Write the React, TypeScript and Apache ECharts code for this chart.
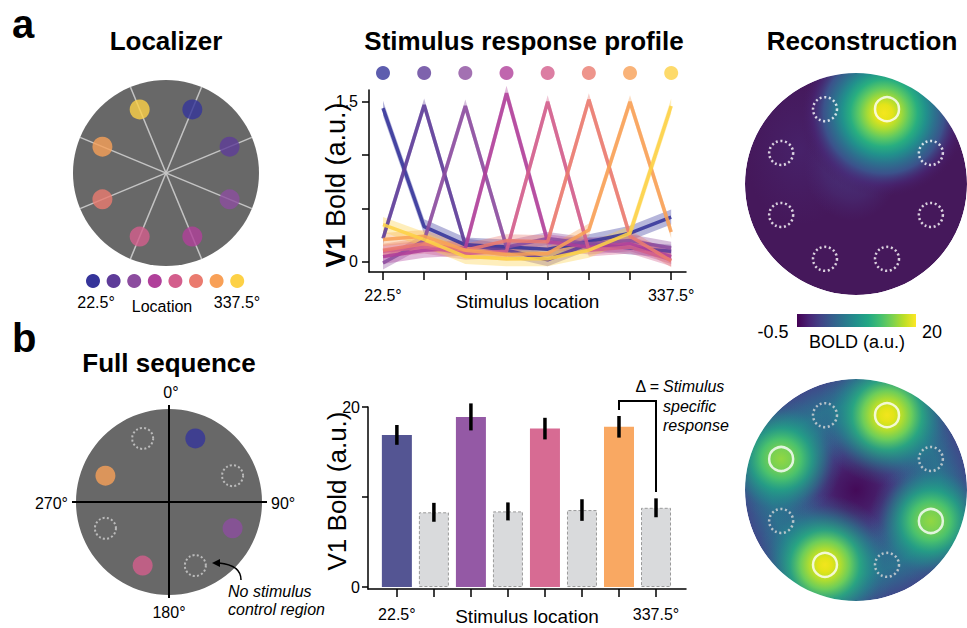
import React, { useEffect, useRef } from 'react';
import * as echarts from 'echarts';

const FONT = '"Liberation Sans", Arial, Helvetica, sans-serif';

// ---------- data ----------
const locations = ['22.5°', '67.5°', '112.5°', '157.5°', '202.5°', '247.5°', '292.5°', '337.5°'];
const locationAngles = [22.5, 67.5, 112.5, 157.5, 202.5, 247.5, 292.5, 337.5];
const locationColors = ['#35349a', '#5e3c99', '#8c4d9f', '#b0409a', '#d35e8c', '#ea7b6f', '#f8a057', '#fdd146'];

// Stimulus response profile: one row per stimulated location
const profile1 = [1.44, 0.33, 0.16, 0.14, 0.12, 0.19, 0.27, 0.42];
const profile2 = [0.22, 1.47, 0.16, 0.11, 0.02, 0.17, 0.13, 0.10];
const profile3 = [-0.01, 0.20, 1.46, 0.14, 0.22, 0.17, 0.20, 0.13];
const profile4 = [0.05, 0.11, 0.13, 1.58, 0.19, 0.14, 0.17, 0.05];
const profile5 = [0.10, 0.14, 0.08, 0.10, 1.50, 0.11, 0.14, 0.02];
const profile6 = [0.11, 0.17, 0.11, 0.20, 0.19, 1.52, 0.24, 0.01];
const profile7 = [0.21, 0.24, 0.11, 0.07, 0.08, 0.30, 1.50, 0.28];
const profile8 = [0.35, 0.21, 0.05, 0.03, 0.03, 0.11, 0.27, 1.46];
const profileValues = [profile1, profile2, profile3, profile4, profile5, profile6, profile7, profile8];
const profileSem = [0.07, 0.06, 0.06, 0.07, 0.06, 0.06, 0.06, 0.07];
const profileTicks = [0, 0.5, 1, 1.5];
const profileLabels = [0, 1.5];

// Full sequence bars
const barValues = [16.9, 8.3, 18.9, 8.4, 17.6, 8.55, 17.8, 8.8];
const barErrors = [1.1, 1.05, 1.5, 1.0, 1.2, 1.2, 1.2, 1.05];
const barIsControl = [false, true, false, true, false, true, false, true];
const barColors = ['#545593', '#d9dadc', '#9459a5', '#d9dadc', '#d76b93', '#d9dadc', '#f9a862', '#d9dadc'];
const barTicks = [0, 10, 20];
const barLabels = [0, 20];

// Disc layouts (stimulus positions)
const fullSeqStimAngles = [22.5, 112.5, 202.5, 292.5];
const fullSeqStimColors = ['#35349a', '#8c4d9f', '#d35e8c', '#f8a057'];
const fullSeqControlAngles = [67.5, 157.5, 247.5, 337.5];
const reconTopStimAngles = [22.5];
const reconTopControlAngles = [67.5, 112.5, 157.5, 202.5, 247.5, 292.5, 337.5];
const reconBottomStrength = [1.0, 0.72, 0.95, 0.72];

const viridis = ['#440154', '#482475', '#414487', '#355f8d', '#2a788e', '#21918c', '#22a884', '#44bf70', '#7ad151', '#bddf26', '#fde725'];

// ---------- layout ----------
const D_LOC = { cx: 166, cy: 173, r: 93 };
const D_FULL = { cx: 169, cy: 502, r: 93 };
const D_RT = { cx: 856, cy: 184, r: 111 };
const D_RB = { cx: 856, cy: 490, r: 111 };
const STIM_RING = 0.74;
const REC_RING = 0.73;

function polarPt(d: { cx: number; cy: number; r: number }, ring: number, a: number) {
  const rad = (a * Math.PI) / 180;
  return [d.cx + d.r * ring * Math.sin(rad), d.cy - d.r * ring * Math.cos(rad)];
}

function radial(stops: [number, string][]) {
  return { type: 'radial', x: 0.5, y: 0.5, r: 0.5, colorStops: stops.map(([offset, color]) => ({ offset, color })) };
}

function buildOption() {
  const g: any[] = [];
  const txt = (t: string, x: number, y: number, o: any = {}) =>
    g.push({
      type: 'text', x, y, z: 10, rotation: o.rotation || 0,
      style: {
        text: t, fill: '#000', fontFamily: FONT, fontSize: o.size || 16,
        fontWeight: o.weight || 'normal', fontStyle: o.style || 'normal',
        align: o.align || 'center', verticalAlign: 'middle', rich: o.rich,
      },
    });

  // panel letters and titles
  txt('a', 12, 24, { size: 40, weight: 'bold', align: 'left' });
  txt('b', 12, 338, { size: 40, weight: 'bold', align: 'left' });
  txt('Localizer', 166, 41, { size: 26, weight: 'bold' });
  txt('Stimulus response profile', 524, 41, { size: 26, weight: 'bold' });
  txt('Reconstruction', 862, 41, { size: 26, weight: 'bold' });
  txt('Full sequence', 169, 363, { size: 26, weight: 'bold' });

  // Localizer disc
  g.push({ type: 'circle', z: 0, shape: { cx: D_LOC.cx, cy: D_LOC.cy, r: D_LOC.r }, style: { fill: '#686868' } });
  locationColors.forEach((c, i) => {
    g.push({ type: 'circle', z: 1, shape: { cx: 93 + i * 20.6, cy: 281, r: 7 }, style: { fill: c } });
  });
  txt('22.5°', 96, 302);
  txt('Location', 162, 306);
  txt('337.5°', 237, 302);

  // Full sequence disc
  g.push({ type: 'circle', z: 0, shape: { cx: D_FULL.cx, cy: D_FULL.cy, r: D_FULL.r }, style: { fill: '#686868' } });
  g.push({ type: 'line', z: 1, shape: { x1: D_FULL.cx, y1: 405, x2: D_FULL.cx, y2: 598 }, style: { stroke: '#000', lineWidth: 2 } });
  g.push({ type: 'line', z: 1, shape: { x1: 72, y1: D_FULL.cy, x2: 267, y2: D_FULL.cy }, style: { stroke: '#000', lineWidth: 2 } });
  txt('0°', 171, 392);
  txt('270°', 68, 503, { align: 'right' });
  txt('90°', 271, 503, { align: 'left' });
  txt('180°', 169, 612);
  txt('No stimulus', 228, 591, { style: 'italic', align: 'left' });
  txt('control region', 228, 609, { style: 'italic', align: 'left' });
  g.push({ type: 'bezierCurve', z: 3, shape: { x1: 241, y1: 580, x2: 219, y2: 563, cpx1: 241, cpy1: 565 }, style: { stroke: '#000', lineWidth: 1.5, fill: null } });
  g.push({ type: 'polygon', z: 3, shape: { points: [[212, 563], [220, 559], [220, 567]] }, style: { fill: '#000' } });

  // Reconstruction top
  g.push({ type: 'circle', z: 0, shape: { cx: D_RT.cx, cy: D_RT.cy, r: D_RT.r }, style: { fill: '#45185b' } });
  g.push({ type: 'ellipse', z: 0.2, shape: { cx: 800, cy: 150, rx: 55, ry: 75 }, style: { fill: radial([[0, 'rgba(72,40,115,0.6)'], [1, 'rgba(72,38,112,0)']]) } });
  g.push({ type: 'ellipse', z: 0.3, shape: { cx: 852, cy: 166, rx: 48, ry: 55 }, style: { fill: radial([[0, 'rgba(72,58,130,0.85)'], [0.6, 'rgba(72,50,122,0.5)'], [1, 'rgba(72,40,115,0)']]) } });
  reconTopStimAngles.forEach((a) => {
    const [x, y] = polarPt(D_RT, REC_RING, a);
    g.push({
      type: 'circle', z: 0.5, shape: { cx: x - 3, cy: y + 4, r: 84 },
      style: {
        fill: radial([
          [0, '#f4e61e'], [0.1, '#e5e419'], [0.2, '#a5db36'], [0.3, '#5ec962'], [0.4, '#28ae80'],
          [0.5, '#21918c'], [0.6, '#2c728e'], [0.72, '#3b528b'], [0.86, 'rgba(72,40,120,0.55)'], [1, 'rgba(70,26,94,0)'],
        ]),
      },
    });
  });
  g.push({ type: 'ring', z: 1.5, shape: { cx: D_RT.cx, cy: D_RT.cy, r: 165, r0: D_RT.r }, style: { fill: '#ffffff' } });

  // Reconstruction bottom
  g.push({
    type: 'circle', z: 0, shape: { cx: D_RB.cx, cy: D_RB.cy, r: D_RB.r },
    style: {
      fill: radial([
        [0, '#440a58'], [0.18, '#461c68'], [0.33, '#45337e'], [0.48, '#3b528b'], [0.62, '#30698e'],
        [0.76, '#2c718e'], [0.88, '#34608d'], [1, '#3f4a8a'],
      ]),
    },
  });
  fullSeqStimAngles.forEach((a, k) => {
    const s = reconBottomStrength[k];
    const [x, y] = polarPt(D_RB, REC_RING, a);
    const stops: [number, string][] = s > 0.9
      ? [[0, '#f2e51d'], [0.1, '#e2e418'], [0.22, '#b0dd2f'], [0.35, '#6ccd5a'], [0.5, 'rgba(40,174,128,0.85)'],
        [0.68, 'rgba(33,145,140,0.55)'], [0.85, 'rgba(42,120,142,0.2)'], [1, 'rgba(42,120,142,0)']]
      : [[0, '#92d742'], [0.15, '#7ad151'], [0.32, '#4ac16d'], [0.5, 'rgba(34,168,132,0.8)'],
        [0.7, 'rgba(33,145,140,0.45)'], [0.85, 'rgba(42,120,142,0.15)'], [1, 'rgba(42,120,142,0)']];
    g.push({ type: 'circle', z: 0.5, shape: { cx: x, cy: y, r: s > 0.9 ? 70 : 62 }, style: { fill: radial(stops) } });
  });
  g.push({ type: 'ring', z: 1.5, shape: { cx: D_RB.cx, cy: D_RB.cy, r: 165, r0: D_RB.r }, style: { fill: '#ffffff' } });

  // colorbar
  g.push({
    type: 'rect', z: 3, shape: { x: 797, y: 314, width: 119, height: 13 },
    style: { fill: { type: 'linear', x: 0, y: 0, x2: 1, y2: 0, colorStops: viridis.map((c, i) => ({ offset: i / (viridis.length - 1), color: c })) } },
  });
  txt('-0.5', 773, 332, { size: 18 });
  txt('20', 932, 332, { size: 18 });
  txt('BOLD (a.u.)', 857, 342, { size: 18 });

  // y axis names
  txt('{b|V1} Bold (a.u.)', 336, 185, {
    size: 27, rotation: Math.PI / 2,
    rich: { b: { fontWeight: 'bold', fontSize: 27, fontFamily: FONT, fill: '#000' } },
  });
  txt('V1 Bold (a.u.)', 337, 491, { size: 26, rotation: Math.PI / 2 });

  // delta annotation
  g.push({ type: 'polyline', z: 3, shape: { points: [[619, 410], [619, 401], [656, 401], [656, 492]] }, style: { stroke: '#000', lineWidth: 2, fill: null } });
  txt('Δ =', 659, 386, { align: 'right' });
  txt('Stimulus', 663, 386, { style: 'italic', align: 'left' });
  txt('specific', 663, 406, { style: 'italic', align: 'left' });
  txt('response', 663, 425, { style: 'italic', align: 'left' });

  const axisBase = {
    axisLine: { show: true, onZero: false, lineStyle: { color: '#000', width: 1.5 } },
    splitLine: { show: false },
  };
  const labelStyle = { color: '#000', fontSize: 16, fontFamily: FONT };
  const nameStyle = { color: '#000', fontSize: 19, fontFamily: FONT };
  const idx = locations.map((_, i) => i);

  const polarAxes = [D_LOC, D_FULL, D_RT, D_RB];

  const option: any = {
    animation: false,
    backgroundColor: '#ffffff',
    textStyle: { fontFamily: FONT },
    grid: [
      { left: 369, top: 90, width: 317, height: 182 },
      { left: 368, top: 407, width: 318, height: 182 },
      { left: 369, top: 66, width: 317, height: 14 },
    ],
    xAxis: [
      {
        ...axisBase, gridIndex: 0, type: 'value', min: -0.34, max: 7.36,
        axisTick: { show: true, customValues: idx, length: 8, lineStyle: { color: '#000', width: 1.5 } },
        axisLabel: { customValues: [0, 7], margin: 15, formatter: (v: number) => locations[Math.round(v)], ...labelStyle },
        name: 'Stimulus location', nameLocation: 'middle', nameGap: 20, nameMoveOverlap: false, nameTextStyle: nameStyle,
      },
      {
        ...axisBase, gridIndex: 1, type: 'value', min: -0.78, max: 7.81,
        axisTick: { show: true, customValues: idx, length: 8, lineStyle: { color: '#000', width: 1.5 } },
        axisLabel: { customValues: [0, 7], margin: 17, formatter: (v: number) => locations[Math.round(v)], ...labelStyle },
        name: 'Stimulus location', nameLocation: 'middle', nameGap: 18, nameMoveOverlap: false, nameTextStyle: nameStyle,
      },
      { gridIndex: 2, type: 'value', min: -0.34, max: 7.36, show: false },
    ],
    yAxis: [
      {
        ...axisBase, gridIndex: 0, type: 'value', min: -0.094, max: 1.61,
        axisTick: { show: true, customValues: profileTicks, length: 7, lineStyle: { color: '#000', width: 1.5 } },
        axisLabel: { customValues: profileLabels, margin: 11, formatter: (v: number) => String(v), ...labelStyle },
      },
      {
        ...axisBase, gridIndex: 1, type: 'value', min: -0.222, max: 20,
        axisTick: { show: true, customValues: barTicks, length: 6, lineStyle: { color: '#000', width: 1.5 } },
        axisLabel: { customValues: barLabels, margin: 8, formatter: (v: number) => String(v), ...labelStyle },
      },
      { gridIndex: 2, type: 'value', min: 0, max: 1, show: false },
    ],
    polar: polarAxes.map((d) => ({ center: [d.cx, d.cy], radius: d.r })),
    angleAxis: polarAxes.map((_, i) => ({ polarIndex: i, type: 'value', min: 0, max: 360, startAngle: 90, clockwise: true, show: false })),
    radiusAxis: polarAxes.map((_, i) => ({ polarIndex: i, type: 'value', min: 0, max: 1, show: false })),
    graphic: { elements: g },
    series: [
      // error bands
      {
        type: 'custom', xAxisIndex: 0, yAxisIndex: 0, z: 2,
        data: profileValues.map((_, i) => [0, 0, i]),
        renderItem: (params: any, api: any) => {
          const i = params.dataIndex;
          const vals = profileValues[i];
          const s = profileSem[i];
          const up = vals.map((v, j) => api.coord([j, v + s]));
          const lo = vals.map((v, j) => api.coord([j, v - s])).reverse();
          return { type: 'polygon', shape: { points: up.concat(lo) }, style: { fill: locationColors[i], opacity: 0.36 } };
        },
      },
      ...profileValues.map((vals, i) => ({
        type: 'line', xAxisIndex: 0, yAxisIndex: 0, z: 3,
        data: vals.map((v, j) => [j, v]),
        symbol: 'none',
        lineStyle: { color: locationColors[i], width: 3.5, opacity: 0.88 },
        itemStyle: { color: locationColors[i] },
      })),
      // dot row above profile chart
      {
        type: 'scatter', xAxisIndex: 2, yAxisIndex: 2, symbolSize: 14,
        data: locationColors.map((c, i) => ({ value: [i, 0.5], itemStyle: { color: c } })),
      },
      // bars
      {
        type: 'bar', xAxisIndex: 1, yAxisIndex: 1, barWidth: 30,
        data: barValues.map((v, i) => ({
          value: [i, v],
          itemStyle: barIsControl[i]
            ? { color: barColors[i], borderColor: '#9a9a9a', borderWidth: 1, borderType: [3, 2] }
            : { color: barColors[i] },
        })),
      },
      {
        type: 'custom', xAxisIndex: 1, yAxisIndex: 1, z: 4,
        data: barValues.map((v, i) => [i, v, barErrors[i]]),
        encode: { x: 0, y: 1 },
        renderItem: (_p: any, api: any) => {
          const x = api.value(0), v = api.value(1), e = api.value(2);
          const p1 = api.coord([x, v - e]);
          const p2 = api.coord([x, v + e]);
          return { type: 'line', shape: { x1: p1[0], y1: p1[1], x2: p2[0], y2: p2[1] }, style: { stroke: '#000', lineWidth: 3.5 } };
        },
      },
      // localizer spokes
      {
        type: 'custom', coordinateSystem: 'polar', polarIndex: 0, z: 2,
        data: locationAngles.slice(0, 4).map((a) => [1, a]),
        renderItem: (_p: any, api: any) => {
          const a = api.value(1);
          const p1 = api.coord([1, a]);
          const p2 = api.coord([1, a + 180]);
          return { type: 'line', shape: { x1: p1[0], y1: p1[1], x2: p2[0], y2: p2[1] }, style: { stroke: '#c4c4c4', lineWidth: 1.5 } };
        },
      },
      {
        type: 'scatter', coordinateSystem: 'polar', polarIndex: 0, symbolSize: 20, z: 3,
        data: locationAngles.map((a, i) => ({ value: [STIM_RING, a], itemStyle: { color: locationColors[i] } })),
      },
      // full sequence
      {
        type: 'scatter', coordinateSystem: 'polar', polarIndex: 1, symbolSize: 20, z: 3,
        data: fullSeqStimAngles.map((a, i) => ({ value: [STIM_RING, a], itemStyle: { color: fullSeqStimColors[i] } })),
      },
      {
        type: 'scatter', coordinateSystem: 'polar', polarIndex: 1, symbolSize: 21, z: 3,
        itemStyle: { color: 'rgba(0,0,0,0)', borderColor: '#d0d0d0', borderWidth: 2, borderType: [2, 2.2] },
        data: fullSeqControlAngles.map((a) => [STIM_RING, a]),
      },
      // reconstruction rings
      {
        type: 'scatter', coordinateSystem: 'polar', polarIndex: 2, symbolSize: 24, z: 3,
        itemStyle: { color: 'rgba(0,0,0,0)', borderColor: '#ffffff', borderWidth: 2.5 },
        data: reconTopStimAngles.map((a) => [REC_RING, a]),
      },
      {
        type: 'scatter', coordinateSystem: 'polar', polarIndex: 2, symbolSize: 24, z: 3,
        itemStyle: { color: 'rgba(0,0,0,0)', borderColor: '#ffffff', borderWidth: 2.5, borderType: [2, 2.6] },
        data: reconTopControlAngles.map((a) => [REC_RING, a]),
      },
      {
        type: 'scatter', coordinateSystem: 'polar', polarIndex: 3, symbolSize: 24, z: 3,
        itemStyle: { color: 'rgba(0,0,0,0)', borderColor: '#ffffff', borderWidth: 2.5 },
        data: fullSeqStimAngles.map((a) => [REC_RING, a]),
      },
      {
        type: 'scatter', coordinateSystem: 'polar', polarIndex: 3, symbolSize: 24, z: 3,
        itemStyle: { color: 'rgba(0,0,0,0)', borderColor: '#d8d8d8', borderWidth: 2.5, borderType: [2, 2.6] },
        data: fullSeqControlAngles.map((a) => [REC_RING, a]),
      },
    ],
  };
  return option;
}

export default function App() {
  const ref = useRef<HTMLDivElement>(null);
  useEffect(() => {
    if (!ref.current) return;
    const chart = echarts.init(ref.current, null, { renderer: 'svg' });
    chart.setOption(buildOption());
    return () => chart.dispose();
  }, []);
  return (
    <div
      ref={ref}
      style={{ position: 'absolute', left: 0, top: 0, width: 967, height: 628, background: '#fff' }}
    />
  );
}
